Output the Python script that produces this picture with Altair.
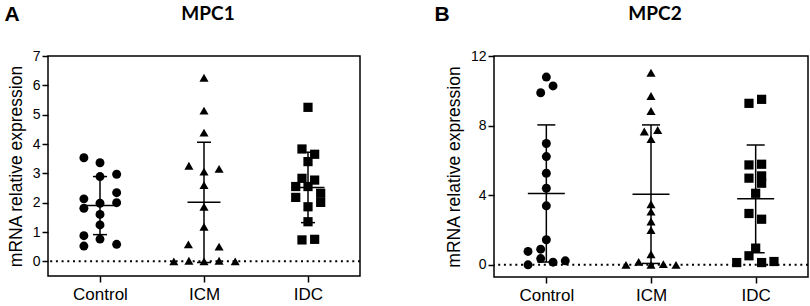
import json
import altair as alt
import pandas as pd

groups = ["Control", "ICM", "IDC"]
shapes = ["circle", "triangle-up", "square"]
y_title = "mRNA relative expression"

# ---- Panel A: MPC1 ----
a_title = "MPC1"
a_letter = "A"
a_control = [3.53, 3.36, 2.89, 2.97, 2.34, 2.13, 1.81, 1.98, 2.00, 1.60, 1.24, 0.875, 0.76, 0.52, 0.58]
a_control_jit = [-0.155, 0, 0, 0.16, 0.16, -0.155, -0.155, 0, 0.16, 0, 0, -0.155, 0, -0.155, 0.16]
a_icm = [6.26, 5.14, 4.39, 3.26, 3.06, 3.15, 2.60, 1.86, 1.18, 0.58, 0.50, 0.0, 0.02, 0.0, 0.02, 0.0]
a_icm_jit = [0, 0, 0, -0.145, 0, 0.145, 0, 0, 0, -0.15, 0.145, -0.29, -0.145, 0, 0.145, 0.30]
a_idc = [5.25, 3.83, 3.65, 3.40, 2.83, 2.77, 2.55, 2.55, 2.32, 2.18, 2.01, 1.86, 1.35, 0.73, 0.75]
a_idc_jit = [0, -0.058, 0.064, 0, -0.058, 0.064, -0.118, 0, 0.122, -0.118, 0.122, 0, 0, -0.058, 0.064]
a_means = [1.90, 2.01, 2.52]
a_sds = [0.99, 2.05, 1.20]
a_yticks = [0, 1, 2, 3, 4, 5, 6, 7]
a_ydomain = [-0.5, 7]

# ---- Panel B: MPC2 ----
b_title = "MPC2"
b_letter = "B"
b_control = [10.79, 9.89, 10.28, 6.97, 6.22, 5.26, 4.40, 3.39, 1.44, 0.77, 0.90, 0.36, 0.0, 0.15, 0.23]
b_control_jit = [0, -0.054, 0.064, 0, 0, 0, 0, 0, 0, -0.175, -0.054, -0.054, -0.175, 0.064, 0.181]
b_icm = [11.04, 9.70, 8.84, 7.66, 7.75, 7.22, 3.48, 3.06, 2.49, 1.99, 0.61, 0.17, 0.0, 0.0, 0.04, 0.0]
b_icm_jit = [0, 0, 0, -0.064, 0.064, 0, 0, 0, 0, 0, 0, -0.118, -0.239, 0, 0.118, 0.239]
b_idc = [9.28, 9.51, 5.74, 5.78, 4.98, 5.11, 4.69, 4.11, 2.95, 2.62, 0.96, 0.52, 0.13, 0.13, 0.19]
b_idc_jit = [-0.064, 0.057, -0.064, 0.057, -0.064, 0.057, 0.057, 0, -0.064, 0.057, 0, -0.064, -0.181, 0.057, 0.175]
b_means = [4.10, 4.06, 3.79]
b_sds = [3.94, 3.98, 3.10]
b_yticks = [0, 4, 8, 12]
b_ydomain = [-0.7, 12]

FONT = "Liberation Sans"
label_expr = json.dumps(groups) + "[datum.value - 1]"


def panel(vals, jits, means, sds, yticks, ydomain, title, letter, letter_x,
          w, h, sizes, mean_w, cap_w):
    rows = []
    for i, (vv, jj) in enumerate(zip(vals, jits)):
        for v, j in zip(vv, jj):
            rows.append({"group": groups[i], "pos": i + 1 + j, "value": v})
    pts = pd.DataFrame(rows)
    stats = pd.DataFrame({
        "group": groups,
        "pos": [i + 1 for i in range(len(groups))],
        "mean": means,
        "lo": [m - s for m, s in zip(means, sds)],
        "hi": [m + s for m, s in zip(means, sds)],
    })

    xscale = alt.Scale(domain=[0.5, 3.5], nice=False, zero=False)
    xaxis = alt.Axis(values=[1, 2, 3], labelExpr=label_expr, title=None,
                     grid=False, domain=False, tickSize=6, tickWidth=1.5,
                     tickColor="black", labelColor="black", labelFont=FONT,
                     labelFontSize=17, labelPadding=4)
    yscale = alt.Scale(domain=ydomain, nice=False, zero=False)
    yaxis = alt.Axis(values=yticks, grid=False, domain=False, tickSize=6,
                     tickWidth=1.5, tickColor="black", labelColor="black",
                     labelFont=FONT, labelFontSize=14, labelPadding=2,
                     title=y_title, titleFont=FONT, titleFontSize=17.5,
                     titleFontWeight="normal", titleColor="black", titlePadding=7)

    def X(f):
        return alt.X(f, scale=xscale, axis=xaxis)

    def Y(f):
        return alt.Y(f, scale=yscale, axis=yaxis)

    zero = alt.Chart(pd.DataFrame({"z": [0]})).mark_rule(
        color="black", strokeDash=[2, 3.7], strokeWidth=2
    ).encode(y=Y("z:Q"))

    sym = alt.Chart(pts).mark_point(filled=True, opacity=1, color="black").encode(
        x=X("pos:Q"),
        y=Y("value:Q"),
        shape=alt.Shape("group:N", scale=alt.Scale(domain=groups, range=shapes), legend=None),
        size=alt.Size("group:N", scale=alt.Scale(domain=groups, range=sizes), legend=None),
    )

    base = alt.Chart(stats)
    err = base.mark_rule(color="black", strokeWidth=1.5).encode(
        x=X("pos:Q"), y=Y("lo:Q"), y2="hi:Q")
    mean_t = base.mark_tick(orient="horizontal", color="black", thickness=1.5,
                            size=mean_w, opacity=1).encode(x=X("pos:Q"), y=Y("mean:Q"))
    cap_hi = base.mark_tick(orient="horizontal", color="black", thickness=1.5,
                            size=cap_w, opacity=1).encode(x=X("pos:Q"), y=Y("hi:Q"))
    cap_lo = base.mark_tick(orient="horizontal", color="black", thickness=1.5,
                            size=cap_w, opacity=1).encode(x=X("pos:Q"), y=Y("lo:Q"))

    lab = alt.Chart(pd.DataFrame({"t": [letter]})).mark_text(
        font=FONT, fontSize=21, fontWeight="bold", color="black",
        align="center", baseline="middle"
    ).encode(text="t:N", x=alt.value(letter_x), y=alt.value(-41))

    ttl = alt.Chart(pd.DataFrame({"t": [title]})).mark_text(
        font="Lato", fontSize=19, fontWeight="bold", color="black",
        align="center", baseline="middle"
    ).encode(text="t:N", x=alt.value(w / 2 + 4), y=alt.value(-42))

    return alt.layer(zero, err, mean_t, cap_hi, cap_lo, sym, lab, ttl).properties(
        width=w, height=h)


pa = panel([a_control, a_icm, a_idc], [a_control_jit, a_icm_jit, a_idc_jit],
           a_means, a_sds, a_yticks, a_ydomain, a_title, a_letter, -36,
           312, 220, [80, 85, 62], 33, 14)
pb = panel([b_control, b_icm, b_idc], [b_control_jit, b_icm_jit, b_idc_jit],
           b_means, b_sds, b_yticks, b_ydomain, b_title, b_letter, -52,
           314, 221, [40, 45, 55], 37, 18)

chart = alt.hconcat(pa, pb, spacing=71).configure(
    padding={"left": 3, "top": 3, "right": 0, "bottom": 0}, background="white"
).configure_view(stroke="black", strokeWidth=1.5)

chart.save("out.html", embed_options={"renderer": "svg", "actions": False})
